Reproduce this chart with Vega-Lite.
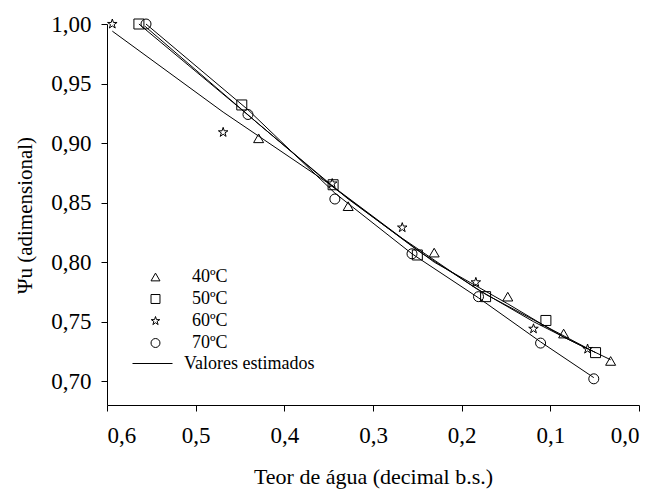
{
  "$schema": "https://vega.github.io/schema/vega-lite/v6.json",
  "width": 532,
  "height": 381,
  "autosize": "none",
  "padding": {"left": 107, "top": 24, "right": 16, "bottom": 84},
  "config": {
    "view": {"stroke": null},
    "font": "Times New Roman",
    "axis": {
      "grid": false,
      "domainColor": "black",
      "tickColor": "black",
      "labelColor": "black",
      "titleColor": "black",
      "labelFont": "Times New Roman",
      "titleFont": "Times New Roman",
      "titleFontWeight": "normal",
      "labelFontSize": 23,
      "titleFontSize": 21,
      "tickSize": 6,
      "domainWidth": 1,
      "tickWidth": 1
    },
    "legend": {
      "labelFont": "Times New Roman",
      "labelFontSize": 18,
      "labelColor": "black",
      "padding": 0,
      "titlePadding": 0
    }
  },
  "datasets": {
    "obs": [
      {"serie": "40ºC", "x": 0.429, "y": 0.904},
      {"serie": "40ºC", "x": 0.328, "y": 0.847},
      {"serie": "40ºC", "x": 0.231, "y": 0.808},
      {"serie": "40ºC", "x": 0.148, "y": 0.771},
      {"serie": "40ºC", "x": 0.085, "y": 0.740},
      {"serie": "40ºC", "x": 0.032, "y": 0.717},
      {"serie": "50ºC", "x": 0.564, "y": 1.0},
      {"serie": "50ºC", "x": 0.448, "y": 0.932},
      {"serie": "50ºC", "x": 0.345, "y": 0.865},
      {"serie": "50ºC", "x": 0.250, "y": 0.806},
      {"serie": "50ºC", "x": 0.173, "y": 0.771},
      {"serie": "50ºC", "x": 0.105, "y": 0.751},
      {"serie": "50ºC", "x": 0.049, "y": 0.724},
      {"serie": "60ºC", "x": 0.594, "y": 1.0},
      {"serie": "60ºC", "x": 0.469, "y": 0.909},
      {"serie": "60ºC", "x": 0.346, "y": 0.866},
      {"serie": "60ºC", "x": 0.267, "y": 0.829},
      {"serie": "60ºC", "x": 0.184, "y": 0.783},
      {"serie": "60ºC", "x": 0.119, "y": 0.744},
      {"serie": "60ºC", "x": 0.058, "y": 0.727},
      {"serie": "70ºC", "x": 0.556, "y": 1.0},
      {"serie": "70ºC", "x": 0.441, "y": 0.924},
      {"serie": "70ºC", "x": 0.343, "y": 0.853},
      {"serie": "70ºC", "x": 0.256, "y": 0.807},
      {"serie": "70ºC", "x": 0.181, "y": 0.771},
      {"serie": "70ºC", "x": 0.111, "y": 0.732},
      {"serie": "70ºC", "x": 0.051, "y": 0.702}
    ],
    "fit": [
      {"serie": "40ºC", "tipo": "Valores estimados", "x": 0.557, "y": 0.998},
      {"serie": "40ºC", "tipo": "Valores estimados", "x": 0.429, "y": 0.916},
      {"serie": "40ºC", "tipo": "Valores estimados", "x": 0.328, "y": 0.853},
      {"serie": "40ºC", "tipo": "Valores estimados", "x": 0.231, "y": 0.800},
      {"serie": "40ºC", "tipo": "Valores estimados", "x": 0.148, "y": 0.765},
      {"serie": "40ºC", "tipo": "Valores estimados", "x": 0.085, "y": 0.737},
      {"serie": "40ºC", "tipo": "Valores estimados", "x": 0.032, "y": 0.718},
      {"serie": "50ºC", "tipo": "Valores estimados", "x": 0.564, "y": 1.0},
      {"serie": "50ºC", "tipo": "Valores estimados", "x": 0.448, "y": 0.928},
      {"serie": "50ºC", "tipo": "Valores estimados", "x": 0.345, "y": 0.863},
      {"serie": "50ºC", "tipo": "Valores estimados", "x": 0.250, "y": 0.810},
      {"serie": "50ºC", "tipo": "Valores estimados", "x": 0.173, "y": 0.773},
      {"serie": "50ºC", "tipo": "Valores estimados", "x": 0.105, "y": 0.746},
      {"serie": "50ºC", "tipo": "Valores estimados", "x": 0.049, "y": 0.724},
      {"serie": "60ºC", "tipo": "Valores estimados", "x": 0.594, "y": 0.994},
      {"serie": "60ºC", "tipo": "Valores estimados", "x": 0.469, "y": 0.926},
      {"serie": "60ºC", "tipo": "Valores estimados", "x": 0.346, "y": 0.864},
      {"serie": "60ºC", "tipo": "Valores estimados", "x": 0.267, "y": 0.820},
      {"serie": "60ºC", "tipo": "Valores estimados", "x": 0.184, "y": 0.778},
      {"serie": "60ºC", "tipo": "Valores estimados", "x": 0.119, "y": 0.750},
      {"serie": "60ºC", "tipo": "Valores estimados", "x": 0.058, "y": 0.727},
      {"serie": "70ºC", "tipo": "Valores estimados", "x": 0.556, "y": 1.0},
      {"serie": "70ºC", "tipo": "Valores estimados", "x": 0.441, "y": 0.928},
      {"serie": "70ºC", "tipo": "Valores estimados", "x": 0.343, "y": 0.858},
      {"serie": "70ºC", "tipo": "Valores estimados", "x": 0.256, "y": 0.807},
      {"serie": "70ºC", "tipo": "Valores estimados", "x": 0.181, "y": 0.770},
      {"serie": "70ºC", "tipo": "Valores estimados", "x": 0.111, "y": 0.733},
      {"serie": "70ºC", "tipo": "Valores estimados", "x": 0.051, "y": 0.703}
    ]
  },
  "layer": [
    {
      "data": {"name": "fit"},
      "mark": {"type": "line", "strokeWidth": 1, "clip": false},
      "encoding": {
        "x": {
          "field": "x", "type": "quantitative",
          "scale": {"domain": [0, 0.6], "reverse": true, "nice": false, "zero": false},
          "axis": {
            "values": [0, 0.1, 0.2, 0.3, 0.4, 0.5, 0.6],
            "labelExpr": "replace(format(datum.value, '.1f'), '.', ',')",
            "labelPadding": 13,
            "title": "Teor de água (decimal b.s.)",
            "titleFontSize": 22,
            "titleBaseline": "alphabetic",
            "titleY": 78
          }
        },
        "y": {
          "field": "y", "type": "quantitative",
          "scale": {"domain": [0.68, 1.0], "nice": false, "zero": false},
          "axis": {
            "values": [0.7, 0.75, 0.8, 0.85, 0.9, 0.95, 1.0],
            "labelExpr": "replace(format(datum.value, '.2f'), '.', ',')",
            "labelPadding": 10,
            "title": "Ψu (adimensional)",
            "titleBaseline": "alphabetic",
            "titleX": -76,
            "titleY": 191
          }
        },
        "detail": {"field": "serie"},
        "order": {"field": "x", "type": "quantitative"},
        "color": {
          "field": "tipo", "type": "nominal",
          "scale": {"range": ["black"]},
          "legend": {
            "title": null,
            "orient": "none",
            "legendX": 25,
            "legendY": 319,
            "symbolType": "stroke",
            "symbolSize": 1600,
            "symbolStrokeWidth": 1,
            "symbolStrokeColor": "black",
            "labelOffset": 11
          }
        }
      }
    },
    {
      "data": {"name": "obs"},
      "mark": {"type": "point", "filled": false, "color": "black", "strokeWidth": 1, "size": 100, "opacity": 1, "clip": false},
      "encoding": {
        "x": {"field": "x", "type": "quantitative"},
        "y": {"field": "y", "type": "quantitative"},
        "shape": {
          "field": "serie", "type": "nominal",
          "scale": {
            "domain": ["40ºC", "50ºC", "60ºC", "70ºC"],
            "range": ["triangle-up", "square", "M0,-1L0.2245,-0.309L0.951,-0.309L0.363,0.118L0.588,0.809L0,0.382L-0.588,0.809L-0.363,0.118L-0.951,-0.309L-0.2245,-0.309Z", "circle"]
          },
          "legend": {
            "title": null,
            "orient": "none",
            "legendX": 39.5,
            "legendY": 244,
            "symbolSize": 80,
            "symbolStrokeColor": "black",
            "symbolFillColor": "transparent",
            "symbolStrokeWidth": 1,
            "symbolOpacity": 1,
            "labelOffset": 27.5,
            "rowPadding": 4
          }
        }
      }
    }
  ]
}
